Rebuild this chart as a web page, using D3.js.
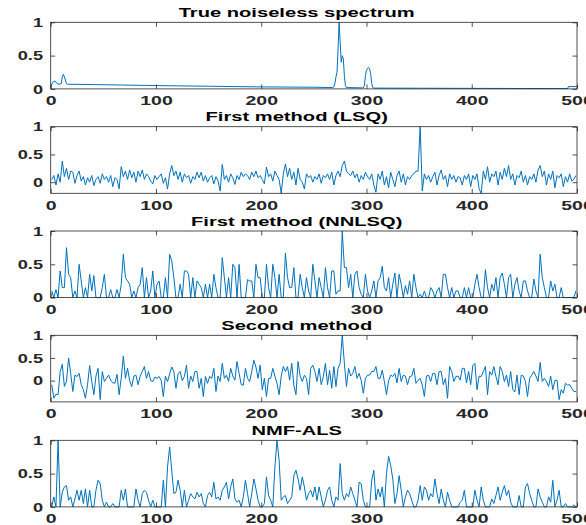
<!DOCTYPE html>
<html>
<head>
<meta charset="utf-8">
<script src="https://cdn.jsdelivr.net/npm/d3@7"></script>
<style>
  body { margin: 0; background: #fff; }
  text { font-family: "Liberation Sans", Arial, sans-serif; font-weight: bold; }
</style>
</head>
<body>
<svg id="fig" width="586" height="525"></svg>
<script>
// panel titles and axis ticks
var titles = ["True noiseless spectrum", "First method (LSQ)", "First method (NNLSQ)", "Second method", "NMF-ALS"];
var xTicks = [0, 100, 200, 300, 400, 500];
var yTicks = [0, 0.5, 1];
var yDomains = [[0, 1], [-0.2, 1], [0, 1], [-0.47, 1], [0, 1]];

// true spectrum, read at its break points
var trueX = [0, 2, 4, 6, 8, 10, 11, 12, 13, 15, 16, 40, 100, 150, 200, 250, 268, 269, 270, 271, 272, 273, 274, 275, 276, 277, 278, 279, 280, 281,
  297, 298, 299, 300, 301, 302, 303, 304, 305, 306, 307, 350, 400, 450, 491, 492, 500];
var trueY = [0.03, 0.1, 0.12, 0.08, 0.07, 0.08, 0.18, 0.22, 0.18, 0.08, 0.07, 0.065, 0.05, 0.04, 0.03, 0.025, 0.02, 0.03, 0.08, 0.18, 0.25, 0.6, 1.0, 0.7, 0.4, 0.5, 0.45, 0.2, 0.05, 0.02,
  0.015, 0.05, 0.2, 0.28, 0.31, 0.32, 0.3, 0.22, 0.08, 0.02, 0.012, 0.01, 0.008, 0.006, 0.005, 0.035, 0.035];

// estimated spectra, one value every 2 bins (x = 1, 3, 5, ... 499)
var lsq = [
  0.05, 0.12, -0.05, 0.15, 0.0, 0.38, 0.1, 0.25, 0.05, 0.2, 0.18, -0.02, 0.12, 0.2, 0.02, 0.1, -0.05, 0.08, 0.0, 0.12, -0.06, 0.05, 0.1, -0.02, 0.15,
  0.05, 0.1, 0.0, 0.12, -0.08, 0.08, 0.05, -0.12, 0.28, 0.1, 0.2, 0.05, 0.22, 0.08, 0.18, 0.0, 0.2, 0.1, 0.22, 0.05, 0.15, 0.1, 0.02, -0.03, 0.12,
  0.05, 0.1, 0.15, -0.02, 0.08, -0.12, 0.15, 0.3, 0.12, 0.2, 0.05, 0.18, 0.0, 0.15, 0.08, 0.12, -0.02, 0.1, 0.05, 0.18, 0.08, 0.18, 0.02, 0.12, 0.0,
  0.08, 0.12, -0.03, 0.1, 0.02, -0.16, 0.32, 0.05, 0.12, 0.0, 0.15, 0.08, -0.04, 0.12, 0.05, 0.18, 0.1, 0.15, 0.12, 0.05, 0.18, 0.1, 0.2, 0.08, 0.12,
  0.05, -0.03, 0.27, 0.1, 0.15, 0.02, 0.2, 0.12, 0.05, -0.2, 0.15, 0.33, 0.1, 0.25, 0.05, 0.18, -0.05, 0.25, 0.05, 0.0, -0.12, 0.15, 0.08, 0.12, 0.0,
  0.1, 0.05, 0.15, -0.02, 0.12, 0.08, 0.15, 0.05, 0.18, -0.05, 0.12, 0.2, 0.1, 0.3, 0.38, 0.2, 0.15, 0.12, 0.2, 0.08, 0.15, 0.0, 0.12, 0.05, 0.18,
  0.1, 0.05, 0.15, -0.05, -0.18, 0.15, 0.05, 0.2, -0.05, 0.1, -0.1, 0.18, 0.05, -0.08, 0.12, 0.2, 0.0, 0.15, -0.05, 0.1, 0.05, 0.12, 0.15, 0.2, 0.2,
  1.0, -0.16, 0.15, 0.05, 0.12, 0.0, 0.1, 0.18, -0.05, 0.12, 0.22, 0.05, 0.12, -0.08, 0.15, 0.05, 0.12, 0.0, 0.1, 0.08, -0.05, 0.12, 0.05, 0.15, -0.08,
  0.12, 0.05, 0.15, -0.12, -0.2, 0.2, 0.05, 0.28, 0.0, 0.15, 0.1, 0.2, -0.05, 0.18, 0.05, 0.25, 0.1, 0.3, 0.05, 0.15, -0.05, 0.12, 0.08, 0.2, 0.0,
  0.12, -0.05, 0.1, 0.05, 0.15, 0.0, 0.22, 0.3, 0.1, 0.2, -0.05, 0.15, 0.05, 0.2, -0.1, 0.12, 0.08, 0.15, -0.08, 0.1, 0.0, 0.15, 0.02, 0.05, 0.12
];
var nnlsq = [
  0.1, 0.0, 0.12, 0.0, 0.4, 0.15, 0.15, 0.75, 0.35, 0.3, 0.0, 0.1, 0.0, 0.5, 0.25, 0.0, 0.15, 0.0, 0.35, 0.1, 0.33, 0.0, 0.0, 0.0, 0.15,
  0.35, 0.0, 0.0, 0.12, 0.0, 0.0, 0.12, 0.0, 0.2, 0.65, 0.3, 0.25, 0.2, 0.0, 0.1, 0.0, 0.15, 0.2, 0.45, 0.0, 0.3, 0.0, 0.1, 0.4, 0.0,
  0.2, 0.25, 0.0, 0.0, 0.3, 0.0, 0.65, 0.55, 0.3, 0.0, 0.0, 0.2, 0.0, 0.4, 0.4, 0.35, 0.0, 0.3, 0.0, 0.25, 0.2, 0.15, 0.0, 0.2, 0.0,
  0.2, 0.0, 0.35, 0.15, 0.0, 0.0, 0.6, 0.3, 0.0, 0.3, 0.0, 0.5, 0.45, 0.0, 0.5, 0.0, 0.0, 0.0, 0.27, 0.25, 0.25, 0.0, 0.5, 0.3, 0.3,
  0.0, 0.0, 0.5, 0.15, 0.0, 0.5, 0.3, 0.0, 0.35, 0.0, 0.0, 0.67, 0.3, 0.15, 0.15, 0.45, 0.0, 0.0, 0.35, 0.15, 0.0, 0.3, 0.1, 0.0, 0.5,
  0.25, 0.0, 0.3, 0.15, 0.0, 0.45, 0.15, 0.0, 0.4, 0.4, 0.05, 0.1, 0.1, 1.0, 0.45, 0.45, 0.15, 0.35, 0.0, 0.35, 0.4, 0.15, 0.05, 0.0, 0.35,
  0.1, 0.0, 0.1, 0.25, 0.0, 0.25, 0.3, 0.47, 0.15, 0.1, 0.3, 0.0, 0.2, 0.37, 0.0, 0.35, 0.2, 0.0, 0.18, 0.05, 0.25, 0.0, 0.35, 0.15, 0.0,
  0.05, 0.0, 0.1, 0.0, 0.0, 0.15, 0.1, 0.0, 0.1, 0.15, 0.0, 0.35, 0.35, 0.15, 0.0, 0.15, 0.0, 0.1, 0.1, 0.0, 0.0, 0.15, 0.0, 0.15, 0.0,
  0.0, 0.2, 0.35, 0.15, 0.0, 0.0, 0.42, 0.15, 0.0, 0.2, 0.1, 0.3, 0.0, 0.3, 0.37, 0.2, 0.0, 0.3, 0.35, 0.0, 0.2, 0.3, 0.1, 0.0, 0.25,
  0.25, 0.1, 0.0, 0.0, 0.28, 0.1, 0.0, 0.65, 0.3, 0.15, 0.0, 0.0, 0.25, 0.1, 0.2, 0.0, 0.0, 0.15, 0.0, 0.0, 0.0, 0.0, 0.0, 0.0, 0.1
];
var second = [
  -0.09, -0.39, -0.3, -0.31, 0.2, 0.36, -0.13, -0.02, 0.5, 0.16, -0.24, 0.12, 0.09, 0.16, -0.09, -0.2, -0.39, -0.09, 0.33, -0.02, -0.31, 0.1, 0.27, -0.42, 0.2,
  -0.02, 0.05, 0.12, 0.01, -0.05, -0.06, 0.14, -0.31, 0.05, 0.54, 0.05, 0.27, 0.0, -0.13, 0.1, 0.12, -0.09, 0.1, 0.2, 0.31, 0.05, 0.2, 0.0, -0.02, 0.08,
  0.05, 0.09, 0.0, -0.35, 0.1, -0.02, 0.15, 0.3, 0.2, -0.17, 0.15, 0.2, 0.0, 0.09, 0.34, -0.17, 0.1, -0.02, 0.2, 0.2, -0.17, 0.05, -0.35, 0.09, -0.06,
  0.09, 0.05, 0.27, -0.24, 0.1, -0.02, 0.38, 0.05, 0.12, -0.02, 0.27, 0.1, 0.01, 0.42, 0.16, -0.09, -0.1, 0.27, 0.05, -0.02, 0.2, 0.45, 0.3, 0.05, 0.34,
  -0.2, 0.05, -0.35, 0.05, 0.05, 0.27, 0.1, -0.06, -0.31, 0.1, 0.31, 0.2, 0.31, 0.01, 0.38, -0.1, -0.31, 0.42, 0.1, -0.02, 0.12, 0.05, -0.31, 0.27, 0.34,
  0.2, -0.02, 0.27, -0.09, 0.09, 0.38, -0.09, 0.23, -0.17, 0.31, -0.13, 0.27, 0.38, 1.0, 0.38, -0.13, 0.27, 0.1, 0.16, 0.31, 0.05, 0.16, 0.0, -0.28, 0.05,
  0.12, 0.12, 0.2, 0.2, 0.31, 0.05, 0.05, 0.23, -0.02, -0.31, 0.0, 0.12, 0.09, 0.16, -0.05, 0.27, -0.02, 0.12, 0.1, -0.09, 0.09, 0.1, 0.27, -0.06, 0.01,
  0.05, -0.1, -0.35, 0.1, 0.12, -0.02, 0.16, 0.16, -0.09, 0.2, 0.2, -0.09, 0.05, -0.39, 0.31, 0.2, -0.02, 0.09, 0.1, 0.01, 0.27, 0.27, -0.05, 0.2, -0.09,
  0.33, 0.38, -0.2, 0.1, 0.09, 0.2, 0.31, -0.31, 0.2, 0.12, 0.31, 0.09, -0.09, 0.31, 0.2, -0.02, 0.12, -0.13, 0.2, -0.2, -0.25, 0.12, -0.31, 0.12, 0.1,
  -0.02, -0.35, 0.05, 0.12, 0.2, 0.1, -0.02, 0.4, -0.02, 0.05, -0.02, -0.13, 0.1, -0.2, 0.0, 0.01, -0.42, -0.2, -0.28, -0.06, -0.1, -0.09, -0.17, -0.24, -0.24
];
var nmf = [
  0.0, 0.15, 0.0, 1.0, 0.0, 0.22, 0.3, 0.32, 0.1, 0.15, 0.0, 0.12, 0.25, 0.1, 0.25, 0.05, 0.27, 0.0, 0.25, 0.0, 0.0, 0.25, 0.4, 0.35, 0.1,
  0.0, 0.07, 0.0, 0.0, 0.05, 0.0, 0.0, 0.0, 0.25, 0.1, 0.27, 0.0, 0.0, 0.0, 0.0, 0.27, 0.1, 0.0, 0.2, 0.25, 0.22, 0.1, 0.0, 0.1, 0.0,
  0.0, 0.0, 0.0, 0.4, 0.0, 0.6, 0.9, 0.55, 0.2, 0.22, 0.4, 0.25, 0.0, 0.25, 0.0, 0.1, 0.2, 0.15, 0.12, 0.22, 0.15, 0.2, 0.05, 0.0, 0.17,
  0.22, 0.15, 0.37, 0.12, 0.15, 0.1, 0.25, 0.3, 0.37, 0.12, 0.3, 0.42, 0.12, 0.07, 0.1, 0.0, 0.15, 0.4, 0.2, 0.0, 0.2, 0.42, 0.27, 0.1, 0.0,
  0.0, 0.05, 0.45, 0.17, 0.1, 0.0, 0.6, 1.0, 0.7, 0.1, 0.15, 0.17, 0.05, 0.1, 0.15, 0.47, 0.55, 0.42, 0.25, 0.45, 0.3, 0.1, 0.2, 0.25, 0.15,
  0.3, 0.1, 0.3, 0.15, 0.0, 0.1, 0.25, 0.3, 0.1, 0.0, 0.15, 0.1, 0.65, 0.2, 0.1, 0.2, 0.15, 0.3, 0.2, 0.1, 0.0, 0.37, 0.35, 0.1, 0.0,
  0.0, 0.0, 0.4, 0.55, 0.1, 0.27, 0.15, 0.3, 0.0, 0.5, 0.76, 0.62, 0.42, 0.05, 0.2, 0.47, 0.25, 0.0, 0.15, 0.25, 0.2, 0.1, 0.0, 0.0, 0.1,
  0.32, 0.1, 0.3, 0.25, 0.1, 0.2, 0.15, 0.42, 0.2, 0.05, 0.27, 0.1, 0.0, 0.22, 0.1, 0.0, 0.0, 0.0, 0.0, 0.07, 0.1, 0.25, 0.0, 0.0, 0.0,
  0.0, 0.25, 0.1, 0.0, 0.3, 0.1, 0.0, 0.0, 0.0, 0.12, 0.05, 0.17, 0.3, 0.1, 0.22, 0.32, 0.17, 0.25, 0.07, 0.0, 0.0, 0.0, 0.17, 0.0, 0.0,
  0.3, 0.35, 0.2, 0.1, 0.0, 0.0, 0.27, 0.15, 0.07, 0.0, 0.0, 0.15, 0.07, 0.4, 0.0, 0.1, 0.25, 0.0, 0.0, 0.05, 0.0, 0.0, 0.0, 0.03, 0.0
];

var series = [null, lsq, nnlsq, second, nmf];

var svg = d3.select("#fig")
  , left = 50.7
  , right = 577
  , width = right - left
  , height = 66.6
  , tops = [22.3, 126.7, 231, 335.3, 440.3]
  , lineColor = "#0072BD"
  , axisColor = "#262626"
  , tickLen = 4.5
  , titleCenter = 246   // titles sit a bit left of the axes middle
  , sxTitle = 1.55      // text in the figure is stretched sideways
  , sxX = 1.5
  , sxY = 1.4;

var x = d3.scaleLinear().domain([0, 500]).range([0, width]);

tops.forEach(function(top, k){
  var y = d3.scaleLinear().domain(yDomains[k]).range([height, 0]);
  var g = svg.append("g").attr("transform", "translate(" + left + "," + top + ")");

  // points of this panel
  var pts;
  if (k === 0) {
    pts = trueX.map(function(d, i){ return [d, trueY[i]]; });
  } else {
    pts = series[k].map(function(d, i){ return [2 * i + 1, d]; });
  }

  var line = d3.line()
    .x(function(d){ return x(d[0]); })
    .y(function(d){ return y(d[1]); });

  g.append("path")
    .datum(pts)
    .attr("fill", "none")
    .attr("stroke", lineColor)
    .attr("stroke-width", 1)
    .attr("d", line);

  // axes with inward ticks on all four sides
  var bottomAx = g.append("g").attr("transform", "translate(0," + height + ")")
    .call(d3.axisBottom(x).tickValues(xTicks).tickSizeInner(-tickLen).tickSizeOuter(0).tickPadding(7));
  var leftAx = g.append("g")
    .call(d3.axisLeft(y).tickValues(yTicks).tickFormat(d3.format("")).tickSizeInner(-tickLen).tickSizeOuter(0).tickPadding(5.5));
  g.append("g")
    .call(d3.axisTop(x).tickValues(xTicks).tickFormat("").tickSizeInner(-tickLen).tickSizeOuter(0));
  g.append("g").attr("transform", "translate(" + width + ",0)")
    .call(d3.axisRight(y).tickValues(yTicks).tickFormat("").tickSizeInner(-tickLen).tickSizeOuter(0));

  g.selectAll(".domain").remove();
  g.selectAll(".tick line").attr("stroke", axisColor).attr("stroke-width", 0.8);
  g.selectAll(".tick text")
    .attr("fill", axisColor)
    .style("font-size", "13px");
  bottomAx.selectAll(".tick text").attr("transform", "scale(" + sxX + ",1)");
  leftAx.selectAll(".tick text").attr("transform", "scale(" + sxY + ",1)");

  g.append("rect")
    .attr("width", width)
    .attr("height", height)
    .attr("fill", "none")
    .attr("stroke", axisColor)
    .attr("stroke-width", 0.8);

  g.append("text")
    .attr("text-anchor", "middle")
    .attr("transform", "translate(" + titleCenter + "," + (-5.5) + ") scale(" + sxTitle + ",1)")
    .style("font-size", "13px")
    .attr("fill", "#000")
    .text(titles[k]);
});
</script>
</body>
</html>
